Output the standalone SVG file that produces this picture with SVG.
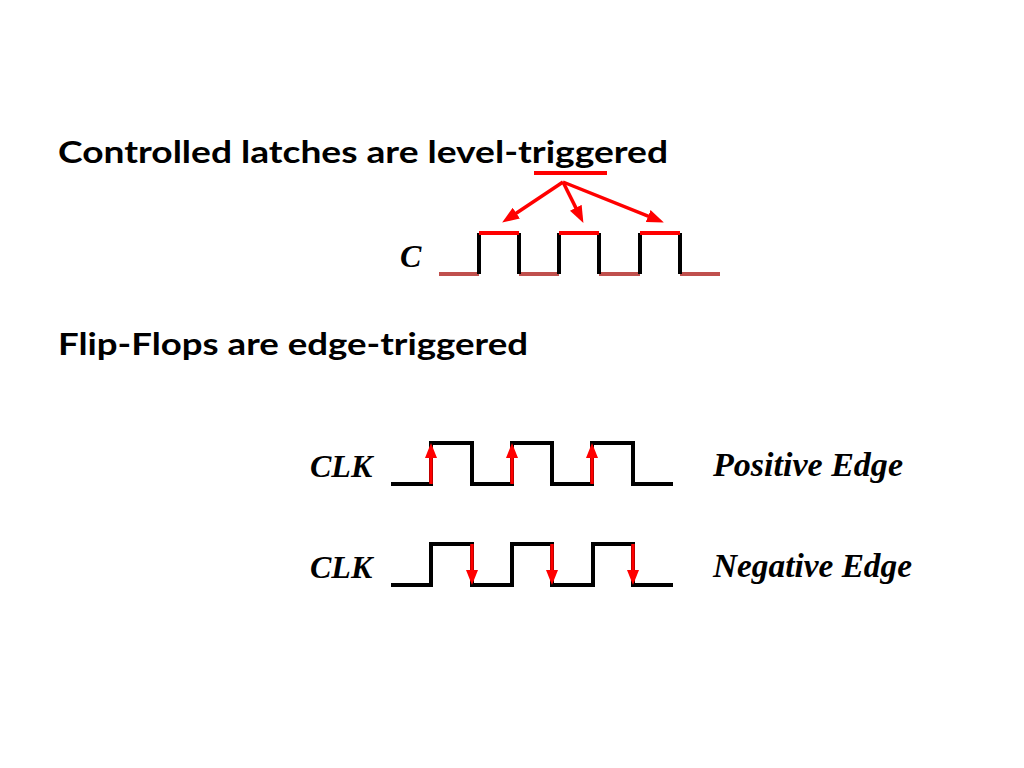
<svg xmlns="http://www.w3.org/2000/svg" width="1024" height="768" viewBox="0 0 1024 768">
<style>
.title{font-family:Lato,"Open Sans","Noto Sans",sans-serif;font-weight:bold;font-size:31px;fill:#000}
.sig{font-family:"Liberation Serif","Times New Roman",serif;font-weight:bold;font-style:italic;font-size:32px;fill:#000}
.edge{font-family:"Liberation Serif","Times New Roman",serif;font-weight:bold;font-style:italic;font-size:34px;fill:#000}
.blk{fill:none;stroke:#000;stroke-width:4;stroke-linejoin:miter}
.red{fill:none;stroke:#FF0000;stroke-width:4}
.low{fill:none;stroke:#C0504D;stroke-width:4}
.arr{fill:none;stroke:#FF0000;stroke-width:3.5}
</style>
<defs>
<marker id="ah" markerUnits="userSpaceOnUse" markerWidth="17" markerHeight="13" refX="6" refY="6.5" orient="auto">
<path d="M0,0 L17,6.5 L0,13 z" fill="#FF0000"/>
</marker>
<marker id="ah2" markerUnits="userSpaceOnUse" markerWidth="15" markerHeight="12" refX="5" refY="6" orient="auto">
<path d="M0,0 L15,6 L0,12 z" fill="#FF0000"/>
</marker>
</defs>
<rect width="1024" height="768" fill="#fff"/>

<g id="title-latches">
<text class="title" x="58" y="163" textLength="610" lengthAdjust="spacingAndGlyphs">Controlled latches are level-triggered</text>
<line class="red" x1="534" y1="173" x2="607" y2="173"/>
</g>

<g id="title-flipflops">
<text class="title" x="58" y="355" textLength="470" lengthAdjust="spacingAndGlyphs">Flip-Flops are edge-triggered</text>
</g>

<g id="signal-c">
<text class="sig" x="400" y="267">C</text>
<path class="low" d="M439,274 H479 M519,274 H559 M599,274 H640 M680,274 H720"/>
<path class="blk" d="M479,233 V274 M519,233 V274 M559,233 V274 M599,233 V274 M640,233 V274 M680,233 V274"/>
<path class="red" d="M479,233 H519 M559,233 H599 M640,233 H680"/>
</g>

<g id="signal-clk-pos">
<text class="sig" x="310" y="477">CLK</text>
<path class="blk" d="M391,484 H431 V443 H472 V484 H512 V443 H552 V484 H592 V443 H633 V484 H673"/>
<text class="edge" x="713" y="476" textLength="190" lengthAdjust="spacingAndGlyphs">Positive Edge</text>
</g>

<g id="signal-clk-neg">
<text class="sig" x="310" y="578">CLK</text>
<path class="blk" d="M391,585 H431 V544 H472 V585 H512 V544 H552 V585 H593 V544 H633 V585 H673"/>
<text class="edge" x="713" y="577" textLength="199" lengthAdjust="spacingAndGlyphs">Negative Edge</text>
</g>

<g id="connectors">
<line class="arr" x1="563" y1="182" x2="511.3" y2="216.5" marker-end="url(#ah)"/>
<line class="arr" x1="563" y1="182" x2="578.5" y2="213.1" marker-end="url(#ah)"/>
<line class="arr" x1="563" y1="182" x2="653.7" y2="218.3" marker-end="url(#ah)"/>
<line class="arr" x1="431" y1="484" x2="431" y2="453" marker-end="url(#ah2)"/>
<line class="arr" x1="512" y1="484" x2="512" y2="453" marker-end="url(#ah2)"/>
<line class="arr" x1="592" y1="484" x2="592" y2="453" marker-end="url(#ah2)"/>
<line class="arr" x1="472" y1="544" x2="472" y2="575" marker-end="url(#ah2)"/>
<line class="arr" x1="552" y1="544" x2="552" y2="575" marker-end="url(#ah2)"/>
<line class="arr" x1="633" y1="544" x2="633" y2="575" marker-end="url(#ah2)"/>
</g>
</svg>
